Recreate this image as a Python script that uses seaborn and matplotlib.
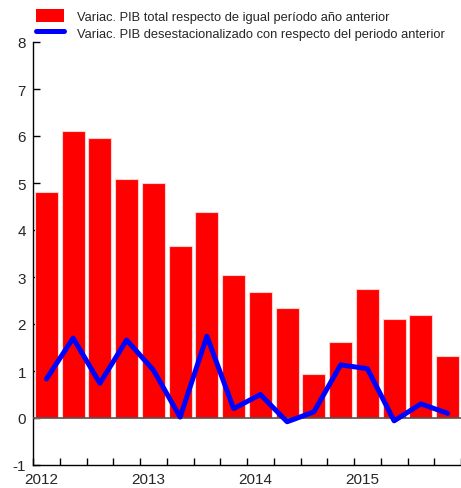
import matplotlib
matplotlib.use('Agg')
import matplotlib.pyplot as plt
from matplotlib.patches import Patch
from matplotlib.lines import Line2D
import numpy as np
import pandas as pd
import seaborn as sb

# datos trimestrales 2012T1 - 2015T4
trimestres = list(range(16))
pib_anual = [4.8, 6.1, 5.95, 5.08, 5.0, 3.66, 4.38, 3.04,
             2.68, 2.34, 0.94, 1.62, 2.74, 2.1, 2.19, 1.32]
pib_desest = [0.83, 1.70, 0.74, 1.66, 1.02, 0.02, 1.74, 0.20,
              0.50, -0.08, 0.13, 1.13, 1.05, -0.06, 0.30, 0.10]
anios = ['2012', '2013', '2014', '2015']

sb.set_style("white")
plt.rcParams['font.family'] = ['Liberation Sans', 'DejaVu Sans']
plt.rcParams['axes.unicode_minus'] = False

df = pd.DataFrame({'t': trimestres, 'anual': pib_anual, 'desest': pib_desest})

fig = plt.figure(figsize=(4.61, 4.89), dpi=100)
ax = fig.add_axes([33/461, 1 - 466/489, 428/461, 423/489])

sb.barplot(data=df, x='t', y='anual', color='#FF0000', saturation=1,
           width=0.86, edgecolor='#FFD0D0', linewidth=0.8, ax=ax)
ax.axhline(0, color='#555555', lw=1.2, zorder=3)
sb.lineplot(data=df, x='t', y='desest', color='#0000FF', lw=3.6, ax=ax, zorder=4)

ax.set_xlim(-0.5, 15.5)
ax.set_ylim(-1, 8)
ax.set_yticks(range(-1, 9))
ax.set_xlabel('')
ax.set_ylabel('')

# etiquetas de año un poco a la derecha del inicio del año
ax.set_xticks([-0.2, 3.8, 7.8, 11.8])
ax.set_xticklabels(anios)
ax.set_xticks(np.arange(-0.5, 16, 1), minor=True)

ax.tick_params(axis='both', which='both', direction='in', labelsize=11,
               color='black', length=5, width=1, bottom=True, left=True)
ax.tick_params(axis='x', which='major', length=0, pad=5)
ax.tick_params(axis='y', pad=5)
for s in ['top', 'right']:
    ax.spines[s].set_visible(False)
for s in ['left', 'bottom']:
    ax.spines[s].set_color('black')
    ax.spines[s].set_linewidth(1)

handles = [Patch(facecolor='#FF0000', edgecolor='none'),
           Line2D([0], [0], color='#0000FF', lw=3.6)]
labels = ['Variac. PIB total respecto de igual período año anterior',
          'Variac. PIB desestacionalizado con respecto del periodo anterior']
fig.legend(handles, labels, loc='upper left', bbox_to_anchor=(0.078, 0.980),
           frameon=False, fontsize=9.3, handlelength=2.2, handleheight=1.2,
           labelspacing=0.25, handletextpad=1.0, borderaxespad=0,
           borderpad=0)

fig.savefig('out.png', dpi=100)
